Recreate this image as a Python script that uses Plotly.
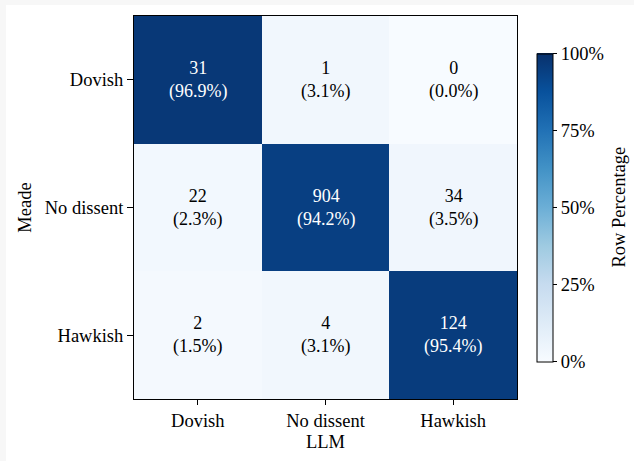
import plotly.graph_objects as go

categories = ["Dovish", "No dissent", "Hawkish"]
counts = [
    [31, 1, 0],
    [22, 904, 34],
    [2, 4, 124],
]
cbar_tickvals = [0, 25, 50, 75, 100]
cbar_ticktext = ["0%", "25%", "50%", "75%", "100%"]

pct = []
for row in counts:
    s = sum(row)
    pct.append([100.0 * v / s for v in row])

FONT = "Liberation Serif"
TS = 18.5
CS = 18

fig = go.Figure()
fig.add_trace(go.Heatmap(
    z=pct, x=categories, y=categories,
    colorscale="Blues", zmin=0, zmax=100,
    xgap=0, ygap=0,
    showscale=True,
    colorbar=dict(
        x=1.052, xanchor="left", xref="paper", xpad=0, ypad=0,
        y=0.5, yanchor="middle", len=0.804, lenmode="fraction",
        thickness=16, outlinecolor="black", outlinewidth=1,
        tickvals=cbar_tickvals, ticktext=cbar_ticktext,
        ticks="outside", ticklen=4, tickcolor="black",
        tickfont=dict(family=FONT, size=TS, color="black"),
    ),
    hoverinfo="skip",
))

for i, row in enumerate(pct):
    for j, p in enumerate(row):
        col = "white" if p > 50 else "black"
        fig.add_annotation(
            x=categories[j], y=categories[i],
            text=f"{counts[i][j]}<br>({p:.1f}%)",
            showarrow=False, xanchor="center", yanchor="middle",
            font=dict(family=FONT, size=CS, color=col),
        )

W, H = 383.0, 383.0
fig.add_annotation(
    xref="paper", yref="paper", x=(618 - 134) / W, y=0.5,
    xanchor="center", yanchor="middle",
    text="Row Percentage", textangle=-90, showarrow=False,
    font=dict(family=FONT, size=TS, color="black"),
)

fig.update_xaxes(
    showline=True, linecolor="black", linewidth=1, mirror=True,
    ticks="outside", ticklen=5, tickcolor="black",
    tickfont=dict(family=FONT, size=TS, color="black"),
    title=dict(text="LLM", font=dict(family=FONT, size=TS, color="black"), standoff=4),
    showgrid=False, zeroline=False,
)
fig.update_yaxes(
    autorange="reversed",
    showline=True, linecolor="black", linewidth=1, mirror=True,
    ticks="outside", ticklen=6, tickcolor="black",
    tickfont=dict(family=FONT, size=TS, color="black"),
    title=dict(text="Meade", font=dict(family=FONT, size=TS, color="black"), standoff=8),
    showgrid=False, zeroline=False,
)

# light gray border strips on left and top edges of the image
fig.add_shape(type="rect", xref="paper", yref="paper",
              x0=-134 / W, x1=(6 - 134) / W, y0=(399 - 461) / H, y1=(399 - 0) / H,
              fillcolor="#f7f7f7", line=dict(width=0), layer="below")
fig.add_shape(type="rect", xref="paper", yref="paper",
              x0=-134 / W, x1=(634 - 134) / W, y0=(399 - 5) / H, y1=(399 - 0) / H,
              fillcolor="#f7f7f7", line=dict(width=0), layer="below")

fig.update_layout(
    width=634, height=461,
    margin=dict(l=134, r=117, t=16, b=62, autoexpand=False),
    paper_bgcolor="white", plot_bgcolor="white",
    font=dict(family=FONT, size=TS, color="black"),
)

fig.write_html("out.html")
